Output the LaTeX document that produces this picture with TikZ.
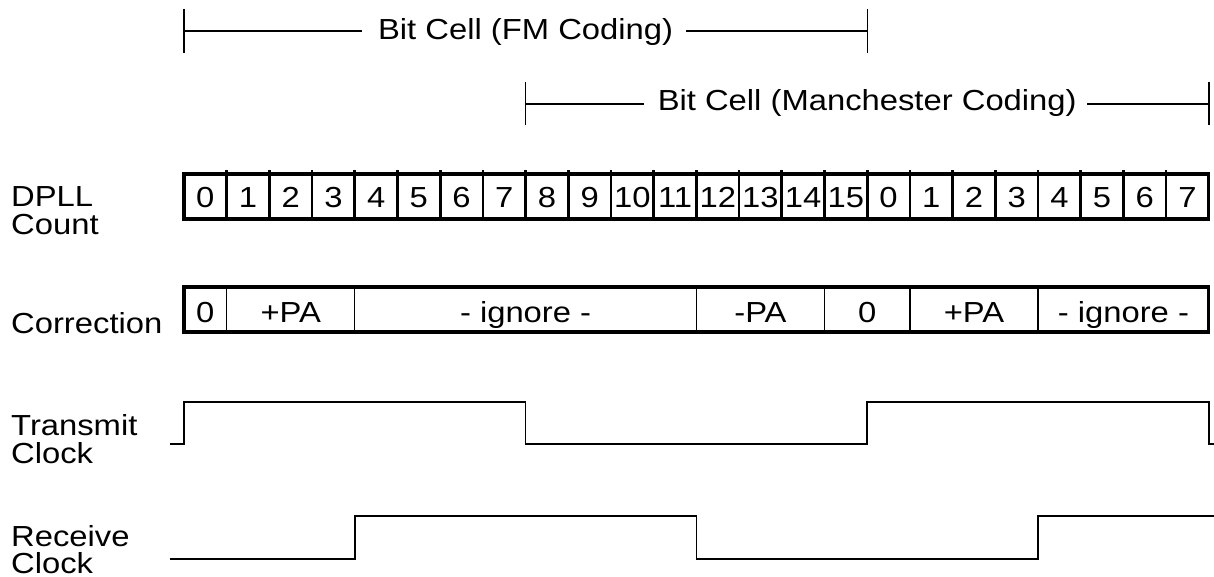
\documentclass[tikz,border=0pt]{standalone}
\usepackage{fontspec}
\setmainfont[FakeStretch=1.13]{Liberation Sans}
\usepackage{tikz}

\tikzset{
  txt/.style={font=\fontsize{29}{28}\selectfont, inner sep=0pt},
  frame/.style={line width=3.2pt},
  bar/.style={line width=1.4pt},
  wave/.style={line width=1.6pt, line join=miter}
}

\begin{document}
\begin{tikzpicture}[x=1pt,y=-1pt]
  \useasboundingbox (0,0) rectangle (1214,577);
  \def\cw{42.7}
  % bit cell brackets
  \coordinate (fmL) at (184,31);
  \coordinate (fmR) at ({184+16*\cw},31);
  \coordinate (mcL) at ({184+8*\cw},104);
  \coordinate (mcR) at ({184+24*\cw},104);
  \node[txt, anchor=base] (fm) at ({184+8*\cw},40) {Bit Cell (FM Coding)};
  \node[txt, anchor=base] (mc) at ({184+16*\cw},111) {Bit Cell (Manchester Coding)};
  \draw[bar, shorten >=16pt] (fmL) -- (fmL -| fm.west);
  \draw[bar, shorten >=13pt] (fmR) -- (fmR -| fm.east);
  \draw[bar, shorten >=14pt] (mcL) -- (mcL -| mc.west);
  \draw[bar, shorten >=10pt] (mcR) -- (mcR -| mc.east);
  \foreach \p in {fmL,fmR}
    \draw[bar] ([yshift=22pt]\p) -- ([yshift=-22pt]\p);
  \foreach \p in {mcL,mcR}
    \draw[bar] ([yshift=21.5pt]\p) -- ([yshift=-21.5pt]\p);
  % row labels
  \node[txt, anchor=base west] (dpll) at (11,207) {DPLL};
  \node[txt, anchor=base west] (count) at (11,235) {Count};
  \node[txt, anchor=base west] (corr) at (11,333) {Correction};
  \node[txt, anchor=base west] (tx) at (11,435) {Transmit};
  \node[txt, anchor=base west] (txclk) at (11,463.5) {Clock};
  \node[txt, anchor=base west] (rx) at (11,546) {Receive};
  \node[txt, anchor=base west] (rxclk) at (11,573.5) {Clock};
  % DPLL count
  \draw[frame] (184,174) rectangle ({184+24*\cw},219);
  \foreach \i in {1,...,23}
    \draw[line width=2.7pt] ({184+\i*\cw},170.5) -- ({184+\i*\cw},219);
  \foreach \i in {0,...,23} {
    \pgfmathtruncatemacro\n{mod(\i,16)}
    \node[txt, anchor=base] (c\i) at ({184+(\i+0.5)*\cw},208) {\n};
  }
  % correction
  \draw[frame] (184,287) rectangle ({184+24*\cw},332);
  \foreach \i in {1,4,12,15,17,20}
    \draw[line width=1.3pt] ({184+\i*\cw},287) -- ({184+\i*\cw},332);
  \foreach \a/\b/\t in {0/1/0,1/4/+PA,4/12/- ignore -,12/15/-PA,15/17/0,17/20/+PA,20/24/- ignore -}
    \node[txt, anchor=base] (k\a) at ({184+(\a+\b)/2*\cw},322.5) {\t};
  % clocks
  \draw[wave] (170,444) -| ({184+0*\cw},402) -| ({184+8*\cw},444)
    -| ({184+16*\cw},402) -| ({184+24*\cw},444) -- (1214,444);
  \draw[wave] (170,559) -| ({184+4*\cw},516) -| ({184+12*\cw},559)
    -| ({184+20*\cw},516) -- (1214,516);
\end{tikzpicture}
\end{document}
